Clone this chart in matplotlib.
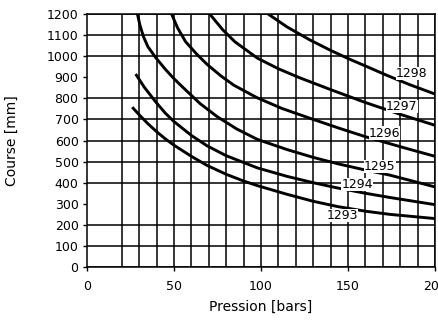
import matplotlib
matplotlib.use("Agg")
import matplotlib.pyplot as plt

plt.rcParams['font.family'] = ['DejaVu Sans']

# curves: pression [bars] -> course [mm]
p_1298 = [104, 115, 128, 140, 151, 162, 172, 185, 200]
c_1298 = [1200, 1138, 1077, 1027, 985, 946, 910, 866, 820]

p_1297 = [70.5, 78, 85, 98, 110, 122, 141, 160, 180, 200]
c_1297 = [1200, 1125, 1068, 990, 940, 898, 838, 780, 724, 672]

p_1296 = [48.6, 52, 56.7, 63, 69, 77, 84.4, 97.7, 112, 130, 145, 160, 182, 200]
c_1296 = [1200, 1135, 1068, 1010, 961, 906, 862, 803, 752, 700, 658, 618, 566, 525]

p_1295 = [29, 30.5, 32.5, 35, 39.6, 45, 50, 56, 65, 75, 86, 98, 115, 130, 144, 160, 174, 200]
c_1295 = [1200, 1145, 1092, 1045, 992, 938, 893, 845, 775, 712, 655, 605, 557, 520, 490, 460, 436, 380]

p_1294 = [28, 33, 39.6, 45, 50, 60, 69, 80, 98, 115, 130, 144, 160, 174, 200]
c_1294 = [915, 852, 782, 730, 690, 624, 575, 528, 470, 430, 400, 375, 350, 330, 296]

p_1293 = [26, 30, 35, 40, 45, 50, 60, 69, 80, 90, 98, 115, 130, 144, 160, 174, 200]
c_1293 = [758, 722, 680, 642, 608, 578, 525, 482, 440, 408, 386, 345, 312, 287, 265, 250, 230]

curves = [("1298", p_1298, c_1298), ("1297", p_1297, c_1297),
          ("1296", p_1296, c_1296), ("1295", p_1295, c_1295),
          ("1294", p_1294, c_1294), ("1293", p_1293, c_1293)]

# where the curve names sit
label_names = ["1298", "1297", "1296", "1295", "1294", "1293"]
label_p = [186.5, 180.8, 171, 168.3, 155.2, 146.5]
label_c = [918, 762, 635, 477, 390, 244]

x_ticks = [0, 50, 100, 150, 200]
y_ticks = list(range(0, 1300, 100))
x_grid = list(range(20, 210, 10))
y_grid = [0, 100, 200, 400, 500, 600, 700, 800, 1000, 1100, 1200]

fig = plt.figure(figsize=(4.39, 3.23), dpi=100)
ax = fig.add_axes([0.198, 0.173, 0.793, 0.784])

ax.vlines(x_grid, 0, 1200, colors='black', linewidth=1.1, zorder=1)
ax.hlines(y_grid, 0, 200, colors='black', linewidth=1.1, zorder=1)

for name, p, c in curves:
    ax.plot(p, c, color='black', linewidth=2.1, solid_capstyle='butt',
            solid_joinstyle='round', zorder=3)

for name, p, c in zip(label_names, label_p, label_c):
    ax.text(p, c, name, fontsize=9, ha='center', va='center', zorder=4,
            bbox=dict(facecolor='white', edgecolor='none', pad=0.1))

ax.set_xlim(0, 200)
ax.set_ylim(0, 1200)
ax.set_xticks(x_ticks)
ax.set_yticks(y_ticks)
ax.tick_params(labelsize=9, length=3, width=1, color='black', pad=3)
ax.tick_params(axis='x', pad=6)
for s in ax.spines.values():
    s.set_linewidth(1.1)
ax.set_xlabel("Pression [bars]", fontsize=10, labelpad=5)
ax.set_ylabel("Course [mm]", fontsize=10, labelpad=20)

fig.savefig("out.png", dpi=100)
